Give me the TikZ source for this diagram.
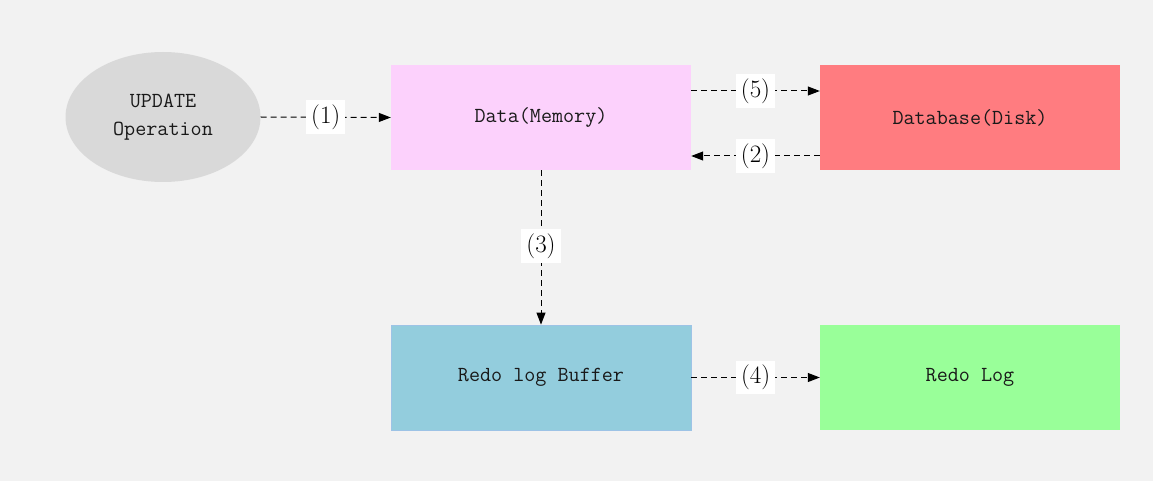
\documentclass[tikz,border=0pt]{standalone}
\usepackage{fontspec}
\usetikzlibrary{arrows.meta,shapes.geometric}
\definecolor{bgc}{HTML}{F2F2F2}
\definecolor{ellc}{HTML}{D9D9D9}
\definecolor{memc}{HTML}{FCD1FC}
\definecolor{diskc}{HTML}{FF7C80}
\definecolor{bufc}{HTML}{93CDDD}
\definecolor{logc}{HTML}{99FF99}
\tikzset{
  box/.style={rectangle, minimum width=300pt, minimum height=105pt, inner sep=0pt,
    font=\ttfamily\fontsize{21.5}{28}\selectfont, text=black!90},
  oval/.style={ellipse, minimum width=195pt, minimum height=130pt, inner sep=0pt, fill=ellc,
    align=center, font=\ttfamily\fontsize{21.5}{28}\selectfont, text=black!90},
  conn/.style={line width=1pt, dash pattern=on 6pt off 4pt, -{Triangle[length=12pt,width=9pt]}},
  lab/.style={fill=white, inner xsep=5pt, inner ysep=4.5pt, font=\fontsize{25}{25}\selectfont, solid}
}
\begin{document}
\begin{tikzpicture}[x=1pt,y=-1pt]
\fill[bgc] (0,0) rectangle (1153,481);
\useasboundingbox (0,0) rectangle (1153,481);
\node[oval] (upd) at (163,117) {UPDATE\\Operation};
\node[box, fill=memc] (mem) at (541,117.5) {Data(Memory)};
\node[box, fill=diskc] (disk) at (970,117.5) {Database(Disk)};
\node[box, fill=bufc, draw={rgb,255:red,157;green,195;blue,230}, line width=0.8pt] (buf) at (541,377.5) {Redo log Buffer};
\node[box, fill=logc] (log) at (970,377.5) {Redo Log};
\draw[conn] (upd.east) -- node[lab] (l1) {(1)} (mem.west);
\draw[conn] ([yshift=26.5pt]mem.east) -- node[lab] (l5) {(5)} ([yshift=26.5pt]disk.west);
\draw[conn] ([yshift=-38.5pt]disk.west) -- node[lab] (l2) {(2)} ([yshift=-38.5pt]mem.east);
\draw[conn] (mem.south) -- node[lab, pos=0.49] (l3) {(3)} (buf.north);
\draw[conn] (buf.east) -- node[lab] (l4) {(4)} (log.west);
\end{tikzpicture}
\end{document}
